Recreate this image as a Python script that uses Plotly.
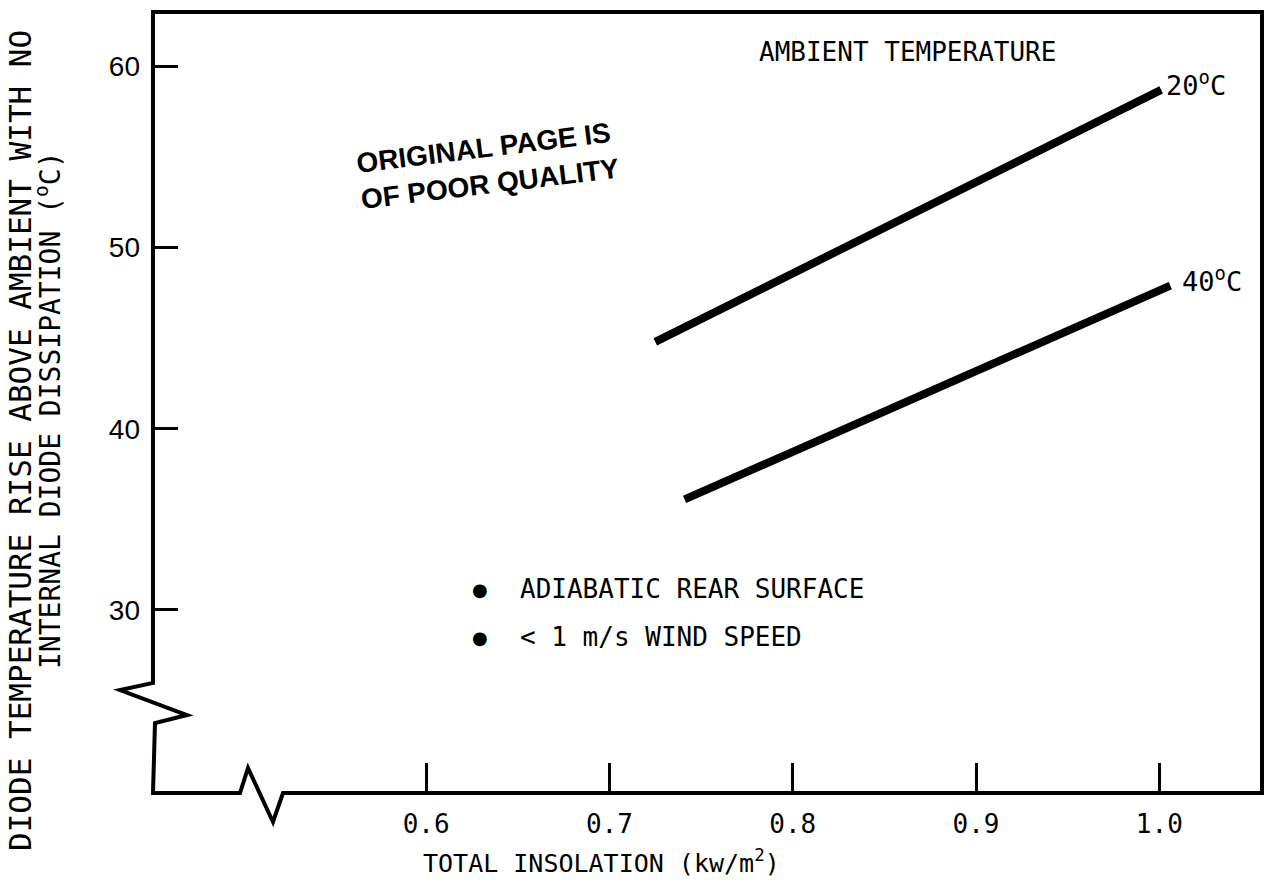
import plotly.graph_objects as go

# ---- data ----
insolation_20c = [0.725, 1.001]
rise_20c = [44.8, 58.7]
insolation_40c = [0.741, 1.006]
rise_40c = [36.1, 47.9]
series_labels = ["20<sup>o</sup>C", "40<sup>o</sup>C"]

x_tickvals = [0.6, 0.7, 0.8, 0.9, 1.0]
x_ticktext = ["0.6", "0.7", "0.8", "0.9", "1.0"]
y_tickvals = [30, 40, 50, 60]
y_ticktext = ["30", "40", "50", "60"]
x_range = [0.451, 1.056]
y_range = [19.9, 63.0]

# ---- layout geometry (pixels) ----
W, H = 1270, 882
ML, MR, MT, MB = 153, 8, 12, 89
PW, PH = W - ML - MR, H - MT - MB


def px(x):
    return (x - ML) / PW


def py(y):
    return (H - MB - y) / PH


TYPE = "DejaVu Sans Mono"

fig = go.Figure()
fig.add_trace(go.Scatter(x=insolation_20c, y=rise_20c, mode="lines",
                         line=dict(color="black", width=8), showlegend=False))
fig.add_trace(go.Scatter(x=insolation_40c, y=rise_40c, mode="lines",
                         line=dict(color="black", width=8), showlegend=False))

# frame with axis-break zigzags (decoration)
frame_pts = [(153, 12), (153, 683), (120, 690), (187, 715), (155, 723),
             (153, 793), (240, 793), (248, 768), (273, 822), (283, 793),
             (1262, 793), (1262, 12)]
path = "M " + " L ".join(f"{px(a):.5f},{py(b):.5f}" for a, b in frame_pts) + " Z"
fig.add_shape(type="path", path=path, xref="paper", yref="paper",
              line=dict(color="black", width=4), layer="above")

annotations = [
    dict(x=insolation_20c[-1], y=rise_20c[-1], xref="x", yref="y",
         text=series_labels[0], xanchor="left", yanchor="middle",
         xshift=3, yshift=6, font=dict(family=TYPE, size=27, color="black"),
         showarrow=False),
    dict(x=insolation_40c[-1], y=rise_40c[-1], xref="x", yref="y",
         text=series_labels[1], xanchor="left", yanchor="middle",
         xshift=10, yshift=6, font=dict(family=TYPE, size=27, color="black"),
         showarrow=False),
    dict(x=px(757), y=py(52), xref="paper", yref="paper",
         text="AMBIENT TEMPERATURE", xanchor="left", yanchor="middle",
         font=dict(family=TYPE, size=26, color="black"), showarrow=False),
    dict(x=px(480), y=py(589), xref="paper", yref="paper", text="●",
         xanchor="center", yanchor="middle",
         font=dict(family="DejaVu Sans", size=18, color="black"), showarrow=False),
    dict(x=px(480), y=py(637), xref="paper", yref="paper", text="●",
         xanchor="center", yanchor="middle",
         font=dict(family="DejaVu Sans", size=18, color="black"), showarrow=False),
    dict(x=px(518), y=py(589), xref="paper", yref="paper",
         text="ADIABATIC REAR SURFACE", xanchor="left", yanchor="middle",
         font=dict(family=TYPE, size=26, color="black"), showarrow=False),
    dict(x=px(518), y=py(637), xref="paper", yref="paper",
         text="&lt; 1 m/s WIND SPEED", xanchor="left", yanchor="middle",
         font=dict(family=TYPE, size=26, color="black"), showarrow=False),
    dict(x=px(488), y=py(166), xref="paper", yref="paper",
         text="<b>ORIGINAL PAGE IS<br>OF POOR QUALITY</b>", textangle=-7,
         xanchor="center", yanchor="middle", align="left",
         font=dict(family="Liberation Sans", size=28, color="black"), showarrow=False),
    dict(x=px(601), y=py(861), xref="paper", yref="paper",
         text="TOTAL INSOLATION (kw/m<sup>2</sup>)", xanchor="center", yanchor="middle",
         font=dict(family=TYPE, size=25, color="black"), showarrow=False),
    dict(x=px(20), y=py(441), xref="paper", yref="paper",
         text="DIODE TEMPERATURE RISE ABOVE AMBIENT WITH NO", textangle=-90,
         xanchor="center", yanchor="middle",
         font=dict(family=TYPE, size=31, color="black"), showarrow=False),
    dict(x=px(48), y=py(410), xref="paper", yref="paper",
         text="INTERNAL DIODE DISSIPATION (<sup>o</sup>C)", textangle=-90,
         xanchor="center", yanchor="middle",
         font=dict(family=TYPE, size=28, color="black"), showarrow=False),
]

fig.update_layout(
    width=W, height=H,
    margin=dict(l=ML, r=MR, t=MT, b=MB, pad=0),
    paper_bgcolor="white", plot_bgcolor="white",
    annotations=annotations,
    showlegend=False,
)
fig.update_xaxes(range=x_range, tickvals=x_tickvals, ticktext=x_ticktext,
                 ticks="inside", ticklen=30, tickwidth=3, tickcolor="black",
                 showgrid=False, zeroline=False, showline=False,
                 ticklabelstandoff=13,
                 tickfont=dict(family=TYPE, size=26, color="black"))
fig.update_yaxes(range=y_range, tickvals=y_tickvals, ticktext=y_ticktext,
                 ticks="inside", ticklen=25, tickwidth=2.5, tickcolor="black",
                 showgrid=False, zeroline=False, showline=False,
                 ticklabelstandoff=12,
                 tickfont=dict(family="Liberation Sans", size=28, color="black"))

fig.write_html("out.html")
